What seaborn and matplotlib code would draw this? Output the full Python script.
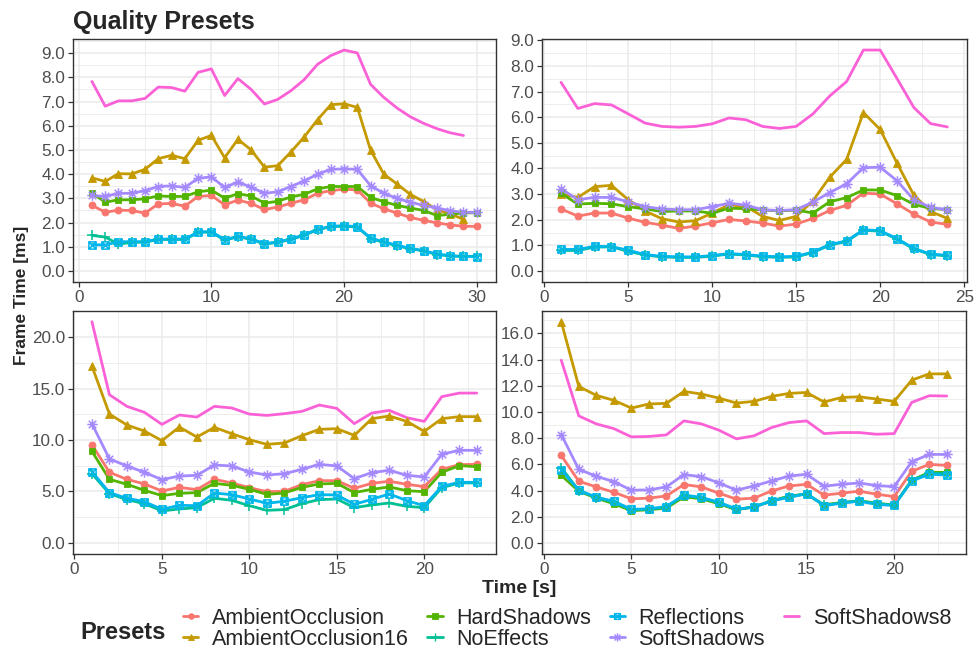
import matplotlib
matplotlib.use("Agg")
import matplotlib.pyplot as plt
from matplotlib.path import Path
from matplotlib.lines import Line2D
from matplotlib.ticker import MultipleLocator, FormatStrFormatter
import pandas as pd
import seaborn as sns

# presets and ggplot-like colours
presets = ["AmbientOcclusion", "AmbientOcclusion16", "HardShadows", "NoEffects",
           "Reflections", "SoftShadows", "SoftShadows8"]
colors = ["#F8766D", "#C49A00", "#53B400", "#00C094", "#00B6EB", "#A58AFF", "#FB61D7"]

# scene 1 (top left)
scene1 = {
    "AmbientOcclusion": [2.71, 2.43, 2.51, 2.50, 2.39, 2.77, 2.79, 2.68, 3.08, 3.12, 2.73, 2.93, 2.79, 2.54, 2.64,
                         2.80, 2.94, 3.21, 3.32, 3.38, 3.35, 2.80, 2.57, 2.39, 2.21, 2.09, 1.99, 1.90, 1.85, 1.84],
    "AmbientOcclusion16": [3.85, 3.70, 4.02, 4.01, 4.20, 4.64, 4.78, 4.64, 5.40, 5.60, 4.68, 5.44, 5.00, 4.29, 4.35,
                           4.92, 5.54, 6.25, 6.87, 6.91, 6.76, 4.99, 4.00, 3.59, 3.16, 2.87, 2.53, 2.35, 2.14],
    "HardShadows": [3.23, 2.84, 2.94, 2.94, 2.98, 3.10, 3.08, 3.08, 3.27, 3.34, 3.01, 3.19, 3.10, 2.80, 2.88,
                    3.06, 3.17, 3.39, 3.49, 3.49, 3.49, 3.04, 2.86, 2.71, 2.60, 2.50, 2.29, 2.34, 2.40, 2.40],
    "NoEffects": [1.47, 1.40, 1.11, 1.18, 1.19, 1.30, 1.30, 1.30, 1.59, 1.61, 1.27, 1.41, 1.31, 1.11, 1.18,
                  1.30, 1.48, 1.70, 1.83, 1.85, 1.81, 1.34, 1.18, 1.04, 0.92, 0.83, 0.68, 0.62, 0.60, 0.61],
    "Reflections": [1.09, 1.07, 1.21, 1.21, 1.21, 1.32, 1.32, 1.32, 1.61, 1.63, 1.29, 1.43, 1.33, 1.13, 1.20,
                    1.32, 1.50, 1.72, 1.85, 1.87, 1.83, 1.36, 1.20, 1.06, 0.93, 0.84, 0.70, 0.63, 0.60, 0.59],
    "SoftShadows": [3.12, 3.08, 3.21, 3.21, 3.32, 3.49, 3.52, 3.45, 3.83, 3.89, 3.45, 3.68, 3.46, 3.21, 3.27,
                    3.49, 3.72, 4.00, 4.20, 4.22, 4.20, 3.52, 3.21, 3.00, 2.84, 2.71, 2.60, 2.49, 2.42, 2.42],
    "SoftShadows8": [7.83, 6.81, 7.03, 7.03, 7.13, 7.60, 7.58, 7.43, 8.21, 8.35, 7.25, 7.95, 7.50, 6.90, 7.09,
                     7.45, 7.91, 8.54, 8.90, 9.13, 9.01, 7.71, 7.17, 6.73, 6.37, 6.10, 5.88, 5.71, 5.60],
}

# scene 2 (top right)
scene2 = {
    "AmbientOcclusion": [2.42, 2.14, 2.26, 2.26, 2.06, 1.90, 1.79, 1.66, 1.75, 1.88, 2.01, 1.95, 1.87, 1.75, 1.83,
                         2.05, 2.36, 2.56, 3.04, 3.00, 2.62, 2.22, 1.91, 1.82],
    "AmbientOcclusion16": [3.00, 2.87, 3.29, 3.34, 2.78, 2.34, 2.04, 1.91, 1.96, 2.26, 2.58, 2.52, 2.13, 1.97, 2.13,
                           2.74, 3.66, 4.35, 6.18, 5.52, 4.21, 2.96, 2.32, 2.05],
    "HardShadows": [3.03, 2.61, 2.64, 2.62, 2.51, 2.42, 2.32, 2.34, 2.34, 2.25, 2.45, 2.43, 2.38, 2.34, 2.38,
                    2.26, 2.70, 2.86, 3.16, 3.16, 2.94, 2.60, 2.44, 2.39],
    "NoEffects": [0.80, 0.80, 0.93, 0.94, 0.77, 0.62, 0.55, 0.53, 0.53, 0.58, 0.66, 0.62, 0.56, 0.53, 0.55,
                  0.72, 1.01, 1.15, 1.59, 1.55, 1.24, 0.86, 0.64, 0.59],
    "Reflections": [0.84, 0.84, 0.96, 0.95, 0.81, 0.64, 0.57, 0.55, 0.55, 0.60, 0.68, 0.64, 0.58, 0.55, 0.57,
                    0.74, 1.03, 1.17, 1.61, 1.57, 1.26, 0.88, 0.66, 0.61],
    "SoftShadows": [3.21, 2.78, 2.87, 2.87, 2.70, 2.51, 2.42, 2.39, 2.39, 2.51, 2.64, 2.57, 2.39, 2.36, 2.39,
                    2.69, 3.06, 3.40, 4.03, 4.05, 3.52, 2.78, 2.48, 2.39],
    "SoftShadows8": [7.36, 6.34, 6.53, 6.48, 6.13, 5.77, 5.64, 5.61, 5.64, 5.74, 5.97, 5.90, 5.64, 5.56, 5.64,
                     6.13, 6.83, 7.39, 8.62, 8.62, 7.51, 6.38, 5.75, 5.62],
}

# scene 3 (bottom left)
scene3 = {
    "AmbientOcclusion": [9.55, 6.86, 6.18, 5.73, 5.05, 5.40, 5.18, 6.18, 5.83, 5.37, 4.98, 5.02, 5.66, 6.05, 6.05,
                         5.31, 5.79, 5.99, 5.70, 5.47, 7.15, 7.61, 7.64],
    "AmbientOcclusion16": [17.18, 12.52, 11.46, 10.87, 9.94, 11.26, 10.29, 11.23, 10.61, 10.03, 9.58, 9.71, 10.42,
                           11.04, 11.10, 10.45, 12.07, 12.33, 11.81, 10.84, 12.07, 12.27, 12.27],
    "HardShadows": [8.90, 6.18, 5.70, 5.11, 4.60, 4.82, 4.89, 5.79, 5.60, 5.21, 4.72, 4.85, 5.40, 5.73, 5.79,
                    4.89, 5.21, 5.44, 5.08, 4.98, 6.86, 7.51, 7.41],
    "NoEffects": [6.73, 4.79, 4.21, 3.82, 3.11, 3.30, 3.43, 4.34, 4.14, 3.62, 3.17, 3.24, 3.82, 4.21, 4.27,
                  3.43, 3.69, 3.88, 3.56, 3.43, 5.37, 5.83, 5.83],
    "Reflections": [6.93, 4.89, 4.34, 4.01, 3.27, 3.66, 3.62, 4.85, 4.69, 4.27, 3.85, 4.05, 4.40, 4.69, 4.66,
                    3.75, 4.24, 4.76, 4.11, 3.62, 5.50, 5.89, 5.89],
    "SoftShadows": [11.59, 8.16, 7.48, 6.86, 6.15, 6.50, 6.57, 7.57, 7.48, 6.89, 6.60, 6.73, 7.15, 7.64, 7.48,
                    6.25, 6.83, 7.06, 6.57, 6.41, 8.61, 9.00, 9.00],
    "SoftShadows8": [21.49, 14.40, 13.27, 12.69, 11.52, 12.43, 12.23, 13.27, 13.11, 12.52, 12.39, 12.56, 12.78,
                     13.40, 13.07, 11.59, 12.62, 12.88, 12.17, 11.81, 14.21, 14.56, 14.56],
}

# scene 4 (bottom right)
scene4 = {
    "AmbientOcclusion": [6.68, 4.71, 4.28, 3.87, 3.37, 3.42, 3.59, 4.46, 4.28, 3.80, 3.34, 3.42, 3.97, 4.35, 4.48,
                         3.65, 3.80, 3.95, 3.72, 3.54, 5.47, 6.00, 5.92],
    "AmbientOcclusion16": [16.89, 11.95, 11.27, 10.89, 10.30, 10.61, 10.66, 11.57, 11.37, 11.06, 10.68, 10.81,
                           11.19, 11.42, 11.49, 10.76, 11.11, 11.16, 10.99, 10.81, 12.43, 12.91, 12.91],
    "HardShadows": [5.16, 3.95, 3.42, 2.99, 2.46, 2.53, 2.66, 3.52, 3.37, 2.99, 2.53, 2.76, 3.19, 3.59, 3.72,
                    2.91, 3.09, 3.22, 3.04, 2.89, 4.78, 5.39, 5.39],
    "NoEffects": [5.75, 4.00, 3.46, 3.10, 2.52, 2.58, 2.73, 3.62, 3.44, 3.06, 2.56, 2.75, 3.21, 3.54, 3.76,
                  2.88, 3.07, 3.21, 3.00, 2.88, 4.77, 5.32, 5.30],
    "Reflections": [5.54, 4.03, 3.49, 3.19, 2.56, 2.61, 2.78, 3.67, 3.47, 3.11, 2.58, 2.73, 3.22, 3.47, 3.77,
                    2.84, 3.04, 3.19, 2.94, 2.86, 4.73, 5.24, 5.19],
    "SoftShadows": [8.28, 5.62, 5.09, 4.68, 4.03, 4.05, 4.28, 5.22, 5.06, 4.58, 4.03, 4.35, 4.73, 5.11, 5.24,
                    4.33, 4.48, 4.58, 4.38, 4.30, 6.20, 6.76, 6.76],
    "SoftShadows8": [13.95, 9.70, 9.09, 8.73, 8.10, 8.13, 8.25, 9.32, 9.09, 8.61, 7.95, 8.18, 8.81, 9.19, 9.32,
                     8.35, 8.43, 8.43, 8.30, 8.35, 10.73, 11.24, 11.22],
}

# ggplot shapes: circle, triangle, square, plus, square-cross, asterisk, none
square_cross = Path([(-1, -1), (1, -1), (1, 1), (-1, 1), (-1, -1), (-1, -1), (1, 1), (-1, 1), (1, -1)],
                    [Path.MOVETO, Path.LINETO, Path.LINETO, Path.LINETO, Path.CLOSEPOLY,
                     Path.MOVETO, Path.LINETO, Path.MOVETO, Path.LINETO])
asterisk = Path([(-1, 0), (1, 0), (0, -1), (0, 1), (-.72, -.72), (.72, .72), (-.72, .72), (.72, -.72)],
                [Path.MOVETO, Path.LINETO] * 4)
markers = ["o", "^", "s", "+", square_cross, asterisk, None]
msizes = [5.0, 5.5, 4.8, 7.0, 5.2, 7.5, 0]
filled = [True, True, True, False, False, False, False]


def to_long(scene):
    rows = []
    for p in presets:
        for i, v in enumerate(scene[p]):
            rows.append({"Time": i + 1, "ms": v, "Preset": p})
    return pd.DataFrame(rows)


sns.set_style("ticks")
plt.rcParams['font.family'] = ['Liberation Sans', 'DejaVu Sans']

fig = plt.figure(figsize=(9.74, 6.51), dpi=100)
W, H = 974, 651
boxes = [(72.7, 39, 496, 282), (541.7, 39, 966.7, 282), (72.7, 310.7, 496, 554), (542, 310.7, 966, 554)]
y_major = [1, 1, 5, 2]
x_major = [10, 5, 5, 5]

for scene, box, ym, xm in zip([scene1, scene2, scene3, scene4], boxes, y_major, x_major):
    l, t, r, b = box
    ax = fig.add_axes([l / W, 1 - b / H, (r - l) / W, (b - t) / H])
    df = to_long(scene)

    # lines first, then points on top (like geom_line + geom_point)
    for p, c in zip(presets, colors):
        sub = df[df["Preset"] == p]
        sns.lineplot(data=sub, x="Time", y="ms", color=c, lw=2.0, ax=ax, legend=False)
    for p, c, m, ms, f in zip(presets, colors, markers, msizes, filled):
        if m is None:
            continue
        sub = df[df["Preset"] == p]
        sns.lineplot(data=sub, x="Time", y="ms", ax=ax, legend=False, linestyle="none",
                     marker=m, markersize=ms, markerfacecolor=c if f else "none",
                     markeredgecolor=c, markeredgewidth=0.6 if f else 1.1)

    # ggplot-like limits: y includes 0, 5% expansion
    ymax = df["ms"].max()
    ax.set_ylim(-0.05 * ymax, ymax * 1.05)
    xmax = df["Time"].max()
    ax.set_xlim(1 - 0.05 * (xmax - 1), xmax + 0.05 * (xmax - 1))

    ax.yaxis.set_major_locator(MultipleLocator(ym))
    ax.yaxis.set_minor_locator(MultipleLocator(ym / 2))
    ax.xaxis.set_major_locator(MultipleLocator(xm))
    ax.xaxis.set_minor_locator(MultipleLocator(xm / 2))
    ax.yaxis.set_major_formatter(FormatStrFormatter("%.1f"))
    ax.xaxis.set_major_formatter(FormatStrFormatter("%d"))

    ax.set_facecolor("white")
    ax.grid(which="major", color="#EBEBEB", lw=1.1)
    ax.grid(which="minor", color="#EBEBEB", lw=0.6)
    ax.set_axisbelow(True)
    for s in ax.spines.values():
        s.set_color("#333333")
        s.set_linewidth(1.0)
    ax.tick_params(which="major", length=3.5, width=0.9, color="#333333", labelcolor="#4D4D4D",
                   labelsize=12.3, pad=2)
    ax.tick_params(which="minor", length=0)
    ax.set_xlabel("")
    ax.set_ylabel("")

fig.text(73 / W, 1 - 29.5 / H, "Quality Presets", fontsize=18, fontweight="bold", ha="left", va="baseline")
fig.text(22 / W, 1 - 295.5 / H, "Frame Time [ms]", fontsize=12.5, fontweight="bold", rotation=90,
         ha="center", va="center")
fig.text(519 / W, 1 - 593 / H, "Time [s]", fontsize=14, fontweight="bold", ha="center", va="baseline")

# legend
fig.text(80 / W, 1 - 639 / H, "Presets", fontsize=17, fontweight="bold", ha="left", va="baseline")
handles = []
for c, m, ms, f in zip(colors, markers, msizes, filled):
    if m is None:
        handles.append(Line2D([], [], color=c, lw=2.0))
    else:
        handles.append(Line2D([], [], color=c, lw=2.0, marker=m, markersize=ms * 0.8,
                              markerfacecolor=c if f else "none", markeredgecolor=c,
                              markeredgewidth=0.6 if f else 1.0))
fig.legend(handles, presets, ncol=4, loc="upper left", bbox_to_anchor=(183 / W, 1 - 608 / H),
           frameon=False, fontsize=15.5, handlelength=0.7, handletextpad=0.63, columnspacing=0.88,
           labelspacing=0.0, borderpad=0, borderaxespad=0)

fig.savefig("out.png", dpi=100)
